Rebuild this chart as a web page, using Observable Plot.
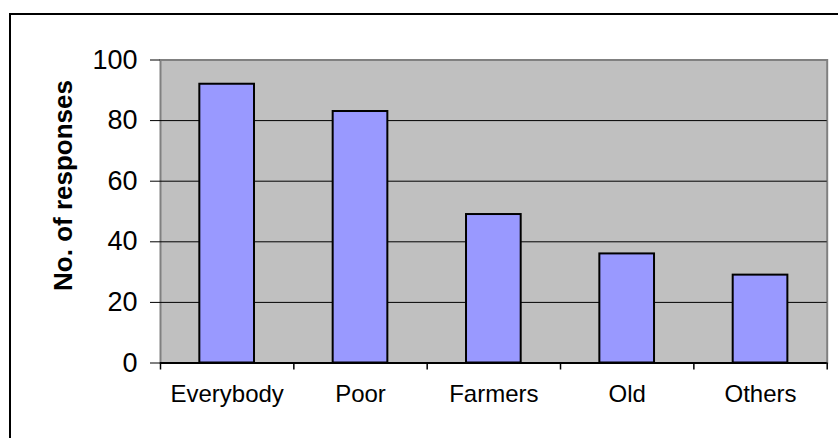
<!DOCTYPE html>
<html>
<head>
<meta charset="utf-8">
<script src="https://cdn.jsdelivr.net/npm/d3@7"></script>
<script src="https://cdn.jsdelivr.net/npm/@observablehq/plot@0.6"></script>
<style>
  html, body { margin: 0; padding: 0; background: #fff; }
  #wrap { position: relative; width: 838px; height: 438px; overflow: hidden; }
  #chart { position: absolute; left: 0; top: 0; }
  #border { position: absolute; left: 9px; top: 13px; width: 900px; height: 500px;
            border: 2px solid #000; box-sizing: border-box; pointer-events: none; }
</style>
</head>
<body>
<div id="wrap"><div id="chart"></div><div id="border"></div></div>
<script>
// Who benefits: number of responses per group
const categories = ["Everybody", "Poor", "Farmers", "Old", "Others"];
const responses = [92, 83, 49, 36, 29];
const yTicks = [0, 20, 40, 60, 80, 100];
const gridValues = [20, 40, 60, 80];
const yTitle = "No. of responses";

const data = categories.map((category, i) => ({category, responses: responses[i]}));

const width = 838, height = 438;
const marginLeft = 160, marginRight = 11.3, marginTop = 59.5, marginBottom = 75.5;
const step = (width - marginLeft - marginRight) / categories.length;
const font = "'Liberation Sans', Arial, sans-serif";

const chart = Plot.plot({
  width, height, marginLeft, marginRight, marginTop, marginBottom,
  style: {fontFamily: font, background: "transparent", color: "#000"},
  x: {domain: categories, paddingInner: 0.59, paddingOuter: 0.295, round: false, label: null},
  y: {domain: [0, 100], label: null},
  marks: [
    // plot area background and grey outline
    Plot.frame({fill: "#c0c0c0", stroke: "#808080", strokeWidth: 2}),
    Plot.ruleY(gridValues, {stroke: "#000", strokeWidth: 1}),
    Plot.barY(data, {x: "category", y: "responses", fill: "#9999ff", stroke: "#000", strokeWidth: 2}),
    // value axis: ticks and labels
    Plot.axisY({ticks: yTicks, tickSize: 10, tickPadding: 13, fontSize: 27, tickFormat: d => d, label: null}),
    // value axis line
    Plot.axisY({ticks: [], line: true, strokeWidth: 2, label: null}),
    // value axis title
    Plot.text([yTitle], {text: d => d, frameAnchor: "left", rotate: -90, dx: -97, dy: -26,
                         fontSize: 26, fontWeight: "bold", textAnchor: "middle", lineAnchor: "middle"}),
    // category axis line
    Plot.ruleY([0], {stroke: "#000", strokeWidth: 2}),
    // category labels
    Plot.axisX({tickSize: 0, tickPadding: 22, fontSize: 24, label: null}),
    // tick marks at category boundaries
    Plot.axisX({tickSize: 7, text: null, dx: -step / 2, label: null, strokeWidth: 1.5}),
    Plot.axisX({ticks: categories.slice(-1), tickSize: 7, text: null, dx: step / 2, label: null, strokeWidth: 1.5})
  ]
});

document.getElementById("chart").appendChild(chart);
</script>
</body>
</html>
